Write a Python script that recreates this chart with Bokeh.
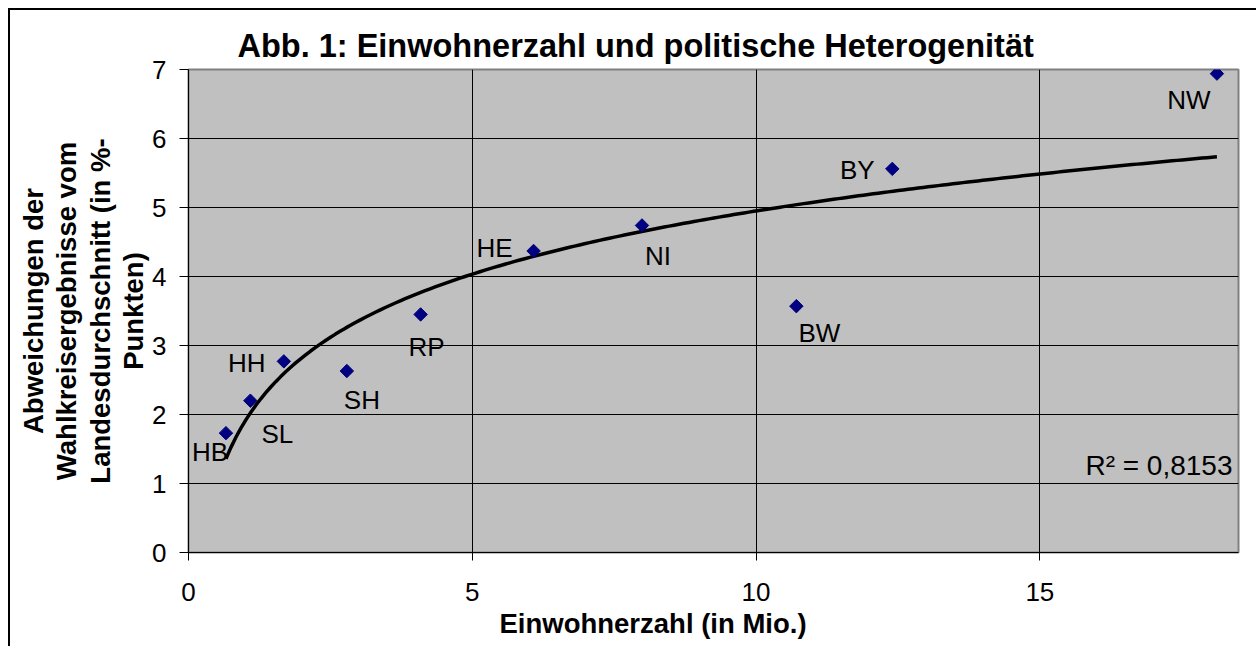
import numpy as np
from bokeh.plotting import figure
from bokeh.models import Label, FixedTicker, ColumnDataSource, Range1d, Title
from bokeh.core.properties import value
from bokeh.embed import file_html
from bokeh.resources import INLINE

# ---- data ----
states = ["HB", "SL", "HH", "SH", "RP", "HE", "NI", "BW", "BY", "NW"]
population = [0.66, 1.09, 1.68, 2.79, 4.09, 6.08, 7.99, 10.71, 12.40, 18.12]
deviation = [1.73, 2.20, 2.77, 2.63, 3.45, 4.37, 4.74, 3.57, 5.56, 6.94]
r2_text = "R² = 0,8153"
title_text = "Abb. 1: Einwohnerzahl und politische Heterogenität"
x_title = "Einwohnerzahl (in Mio.)"
y_title_lines = ["Abweichungen der", "Wahlkreisergebnisse vom",
                 "Landesdurchschnitt (in %-", "Punkten)"]
x_ticks = [0, 5, 10, 15]
y_ticks = [0, 1, 2, 3, 4, 5, 6, 7]

# label placement (screen px, relative to point; text baseline)
label_dx = {"HB": -16, "SL": 27, "HH": -37, "SH": 15, "RP": 6,
            "HE": -39, "NI": 16, "BW": 23, "BY": -35, "NW": -28}
label_dy = {"HB": 19, "SL": 33, "HH": 2, "SH": 29, "RP": 33,
            "HE": -3, "NI": 31, "BW": 27, "BY": 1, "NW": 26}

FONT = "Liberation Sans"

p = figure(width=1248, height=638, output_backend="svg", toolbar_location=None,
           x_range=Range1d(0, 18.5), y_range=Range1d(0, 7),
           min_border_left=178, min_border_top=59, min_border_right=20,
           min_border_bottom=96,
           styles={"margin-left": "8px", "margin-top": "8px",
                   "border-left": "2px solid black", "border-top": "2px solid black"})
p.background_fill_color = "#C0C0C0"
p.border_fill_color = "white"
p.outline_line_color = "#808080"
p.outline_line_width = 2

p.title.text = title_text
p.title.align = "left"
p.title.offset = 49
p.title.standoff = 12
p.title.text_font = FONT
p.title.text_font_size = "32.5px"
p.title.text_font_style = "bold"
p.title.text_color = "black"

for ax in (p.xaxis[0], p.yaxis[0]):
    ax.axis_line_color = "black"
    ax.axis_line_width = 1
    ax.major_tick_line_color = "black"
    ax.major_tick_in = 0
    ax.minor_tick_line_color = None
    ax.major_label_text_font = FONT
    ax.major_label_text_font_size = "26px"
    ax.major_label_text_color = "black"
p.xaxis.ticker = FixedTicker(ticks=x_ticks)
p.yaxis.ticker = FixedTicker(ticks=y_ticks)
p.xaxis.major_tick_out = 8
p.yaxis.major_tick_out = 9
p.xaxis.major_label_standoff = 22
p.yaxis.major_label_standoff = 13

p.yaxis.axis_label = "\n".join(y_title_lines)
p.yaxis.axis_label_text_font = FONT
p.yaxis.axis_label_text_font_size = "27.5px"
p.yaxis.axis_label_text_font_style = "bold"
p.yaxis.axis_label_text_color = "black"
p.yaxis.axis_label_text_line_height = 1.08
p.yaxis.axis_label_standoff = 0

p.add_layout(Title(text=x_title, align="left", offset=311, standoff=4,
                   text_font=FONT, text_font_size="27.5px", text_font_style="bold",
                   text_color="black"), "below")

p.xgrid.grid_line_color = "black"
p.ygrid.grid_line_color = "black"
p.xgrid.grid_line_width = 1
p.ygrid.grid_line_width = 1
p.xgrid.ticker = FixedTicker(ticks=x_ticks)
p.ygrid.ticker = FixedTicker(ticks=y_ticks)

# logarithmic trend line fitted to the data
xs = np.array(population)
ys = np.array(deviation)
a, b = np.polyfit(np.log(xs), ys, 1)
tx = np.linspace(xs.min(), xs.max(), 200)
p.line(tx, a * np.log(tx) + b, line_color="black", line_width=3.5)

src = ColumnDataSource(dict(x=population, y=deviation, name=states,
                            dx=[label_dx[s] for s in states],
                            dy=[label_dy[s] for s in states]))
p.scatter("x", "y", source=src, marker="square", angle=np.pi / 4, size=9.5,
          fill_color="#000080", line_color="#000080")
p.text("x", "y", text="name", source=src, x_offset="dx", y_offset="dy",
       text_align="center", text_baseline="alphabetic",
       text_font=value(FONT), text_font_size="26px", text_color="black")

# R² label: frame-relative screen coordinates
p.add_layout(Label(x=1044, y=87, x_units="screen", y_units="screen",
                   text=r2_text, text_align="right", text_baseline="alphabetic",
                   text_font=FONT, text_font_size="28px", text_color="black"))

open("out.html", "w").write(file_html(p, INLINE))
